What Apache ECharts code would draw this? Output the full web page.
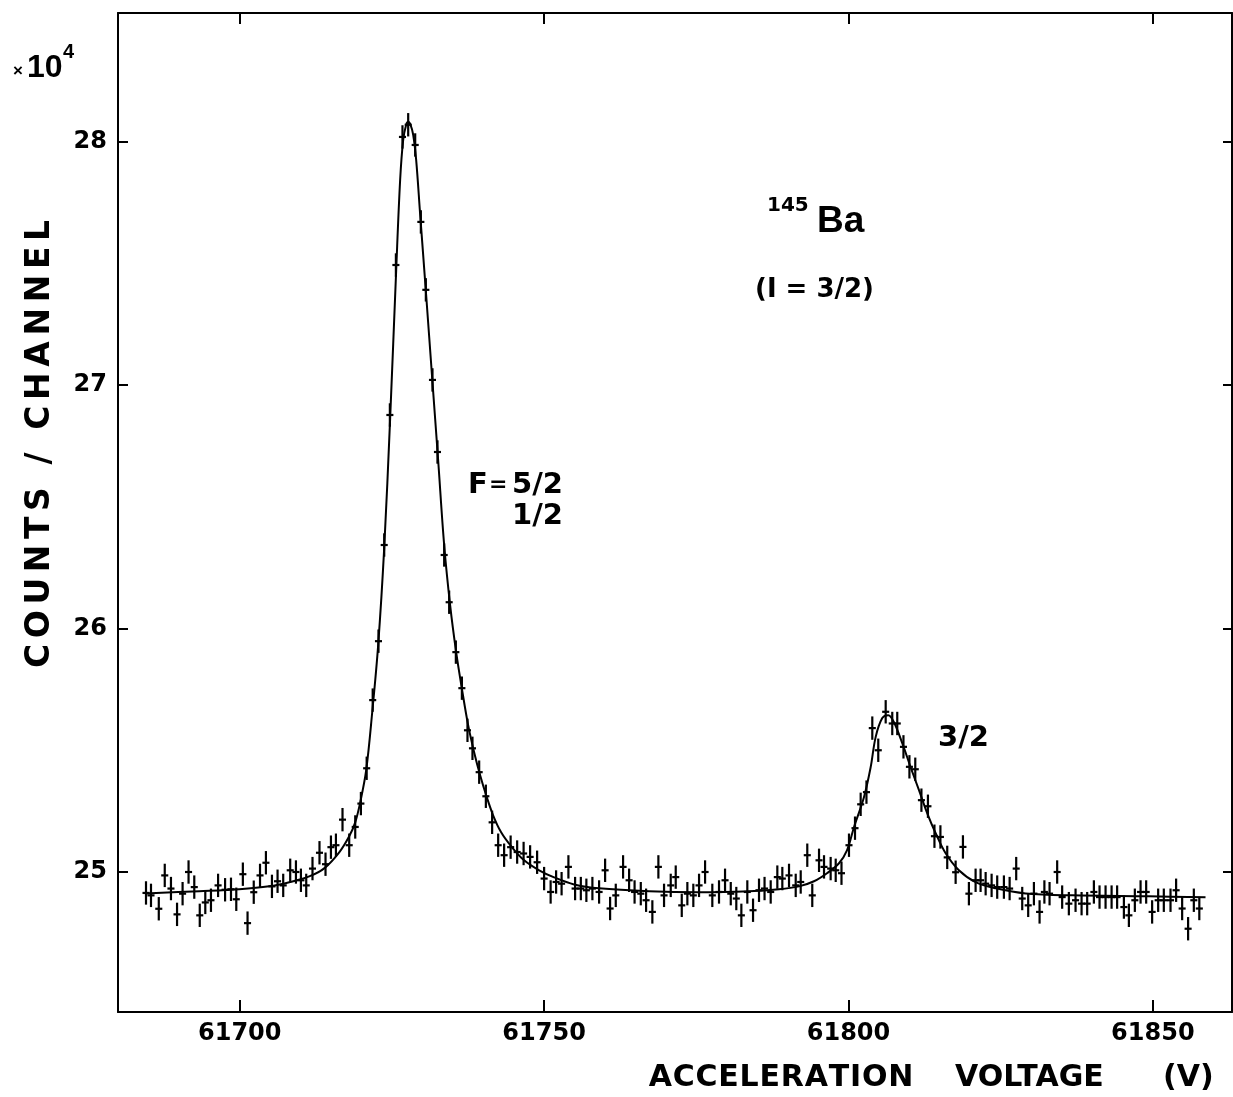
<!DOCTYPE html>
<html>
<head>
<meta charset="utf-8">
<script src="https://cdn.jsdelivr.net/npm/echarts@6/dist/echarts.min.js"></script>
<style>
html,body{margin:0;padding:0;background:#fff;}
#c{width:1233px;height:1097px;}
</style>
</head>
<body>
<div id="c"></div>
<script>
// Measured channels: acceleration voltage (V)
const voltage = [
61684.60,61685.42,61686.70,61687.68,61688.70,61689.70,61690.61,61691.59,61692.53,61693.43,
61694.34,61695.27,61696.44,61697.59,61698.56,61699.43,61700.51,61701.28,61702.30,61703.33,
61704.30,61705.29,61706.21,61707.14,61708.29,61709.23,61710.05,61710.92,61711.95,61713.10,
61714.09,61714.98,61715.80,61716.88,61717.98,61718.97,61719.90,61720.85,61721.84,61722.79,
61723.73,61724.66,61725.65,61726.73,61727.67,61728.82,61729.75,61730.57,61731.66,61732.48,
61733.58,61734.40,61735.50,61736.49,61737.41,61738.23,61739.33,61740.43,61741.46,61742.45,
61743.43,61744.50,61745.57,61746.63,61747.70,61748.85,61750.00,61751.07,61751.97,61752.87,
61753.99,61755.09,61756.03,61756.94,61757.93,61759.03,61760.02,61760.84,61761.77,61762.97,
61763.96,61764.86,61765.88,61766.75,61767.78,61768.77,61769.70,61770.80,61771.62,61772.61,
61773.53,61774.51,61775.45,61776.44,61777.63,61778.73,61779.72,61780.66,61781.57,61782.40,
61783.38,61784.32,61785.30,61786.21,61787.22,61788.31,61789.13,61790.23,61791.33,61792.15,
61793.23,61794.05,61795.16,61795.98,61797.07,61797.90,61798.85,61800.08,61801.07,61802.00,
61802.95,61803.91,61804.89,61806.11,61807.19,61808.01,61809.03,61810.01,61810.97,61811.98,
61813.05,61814.12,61815.10,61816.22,61817.60,61818.80,61819.78,61820.88,61821.70,61822.53,
61823.51,61824.43,61825.53,61826.47,61827.55,61828.54,61829.52,61830.46,61831.39,61832.18,
61833.03,61834.28,61835.10,61836.20,61837.30,61838.29,61839.21,61840.31,61841.24,61842.23,
61843.22,61844.13,61845.24,61846.06,61847.04,61847.98,61848.90,61849.88,61850.87,61851.80,
61852.90,61853.82,61854.81,61855.79,61856.73,61857.63
];
// Counts per channel (x10^4)
const counts = [
24.914,24.904,24.849,24.986,24.932,24.826,24.911,25.000,24.938,24.822,
24.875,24.884,24.945,24.927,24.929,24.888,24.991,24.790,24.917,24.986,
25.038,24.941,24.962,24.945,25.007,25.000,24.966,24.945,25.014,25.079,
25.032,25.102,25.110,25.215,25.110,25.185,25.281,25.426,25.706,25.948,
26.343,26.877,27.493,28.019,28.069,27.986,27.670,27.391,27.021,26.725,
26.302,26.108,25.903,25.755,25.582,25.508,25.410,25.311,25.204,25.110,
25.069,25.102,25.082,25.076,25.062,25.040,24.973,24.918,24.959,24.952,
25.021,24.932,24.932,24.925,24.932,24.918,25.007,24.850,24.904,25.021,
24.966,24.918,24.911,24.884,24.836,25.021,24.904,24.945,24.979,24.863,
24.911,24.904,24.945,25.000,24.904,24.918,24.966,24.911,24.891,24.822,
24.918,24.843,24.925,24.932,24.918,24.979,24.973,24.986,24.945,24.959,
25.069,24.904,25.048,25.021,25.014,25.007,24.995,25.110,25.180,25.278,
25.328,25.591,25.500,25.658,25.610,25.610,25.514,25.432,25.422,25.295,
25.270,25.147,25.144,25.060,24.999,25.103,24.911,24.966,24.966,24.952,
24.945,24.938,24.938,24.932,25.014,24.891,24.863,24.911,24.836,24.918,
24.911,25.000,24.897,24.870,24.884,24.870,24.870,24.918,24.897,24.897,
24.897,24.897,24.856,24.822,24.884,24.918,24.918,24.836,24.884,24.884,
24.884,24.925,24.850,24.767,24.884,24.850
];
// Fitted curve
const fitVoltage = [
61684.48,61693.35,61699.92,61704.84,61708.13,61711.41,61713.87,61716.34,61717.98,61718.97,
61719.79,61720.77,61721.76,61722.74,61723.73,61724.71,61725.70,61726.35,61726.85,61727.34,
61727.67,61728.00,61728.49,61728.98,61729.64,61730.62,61731.61,61732.59,61733.58,61734.56,
61735.55,61736.53,61737.52,61738.50,61739.49,61740.48,61741.62,61742.94,61744.58,61746.72,
61749.18,61751.64,61754.92,61759.03,61767.24,61775.45,61783.66,61788.59,61791.87,61794.33,
61796.47,61798.44,61799.75,61800.90,61802.54,61803.64,61804.46,61805.55,61806.53,61807.47,
61808.83,61810.21,61811.58,61812.94,61814.32,61815.96,61818.14,61820.88,61824.17,61829.10,
61836.75,61849.34,61858.65
];
const fitCounts = [
24.912,24.921,24.929,24.941,24.958,24.982,25.015,25.081,25.147,25.204,
25.286,25.418,25.656,25.932,26.330,26.865,27.473,27.843,28.007,28.069,
28.081,28.073,28.028,27.925,27.699,27.370,27.029,26.692,26.343,26.096,
25.903,25.747,25.603,25.492,25.397,25.315,25.233,25.163,25.106,25.048,
25.007,24.978,24.949,24.933,24.921,24.917,24.921,24.929,24.941,24.962,
24.995,25.036,25.089,25.184,25.307,25.430,25.554,25.632,25.644,25.615,
25.529,25.430,25.336,25.241,25.159,25.077,25.007,24.958,24.933,24.912,
24.904,24.900,24.896
];
const xTicks = [61700, 61750, 61800, 61850];
const yTicks = [25, 26, 27, 28];
const yErr = 0.048;     // half length of the vertical error bar (x10^4)
const xHalf = 0.58;     // half channel width (V)

const chart = echarts.init(document.getElementById('c'), null, {renderer:'canvas'});
const FONT = 'DejaVu Sans';
const axisLineStyle = {color:'#000', width:2};

const points = voltage.map((v,i)=>[v, counts[i]]);
const fit = fitVoltage.map((v,i)=>[v, fitCounts[i]]);

function txt(x, y, text, font, align){
  return {type:'text', x:x, y:y, silent:true,
    style:{text:text, font:font, fill:'#000', align:align||'left', verticalAlign:'middle'}};
}
// text with extra letter spacing, centred on (cx, cy), optionally rotated
const mctx = document.createElement('canvas').getContext('2d');
function spaced(cx, cy, str, font, spacing, rotation){
  mctx.font = font;
  const chars = Array.from(str);
  const widths = chars.map(ch=>mctx.measureText(ch).width);
  const total = widths.reduce((a,b)=>a+b,0) + spacing*(chars.length-1);
  let pos = -total/2;
  const children = chars.map((ch,i)=>{
    const el = {type:'text', x:pos, y:0, silent:true,
      style:{text:ch, font:font, fill:'#000', align:'left', verticalAlign:'middle'}};
    pos += widths[i] + spacing;
    return el;
  });
  return {type:'group', x:cx, y:cy, rotation:rotation||0, silent:true, children:children};
}

chart.setOption({
  animation:false,
  backgroundColor:'#fff',
  grid:{left:118, right:1, top:13, bottom:85, containLabel:false},
  xAxis:[{
    type:'value', position:'bottom', min:61680, max:61863,
    axisLine:{show:true, onZero:false, lineStyle:axisLineStyle},
    axisTick:{show:true, inside:true, length:12, lineStyle:{color:'#000', width:2}, customValues:xTicks},
    axisLabel:{show:true, customValues:xTicks, margin:10, color:'#000', fontFamily:FONT, fontSize:24,
      fontWeight:'bold', formatter:v=>String(v)},
    splitLine:{show:false}
  },{
    type:'value', position:'top', min:61680, max:61863,
    axisLine:{show:true, onZero:false, lineStyle:axisLineStyle},
    axisTick:{show:true, inside:true, length:11, lineStyle:{color:'#000', width:2}, customValues:xTicks},
    axisLabel:{show:false},
    splitLine:{show:false}
  }],
  yAxis:[{
    type:'value', position:'left', min:24.425, max:28.528,
    axisLine:{show:true, onZero:false, lineStyle:axisLineStyle},
    axisTick:{show:true, inside:true, length:10, lineStyle:{color:'#000', width:2}, customValues:yTicks},
    axisLabel:{show:true, customValues:yTicks, margin:11, color:'#000', fontFamily:FONT, fontSize:24,
      fontWeight:'bold', formatter:v=>String(v)},
    splitLine:{show:false}
  },{
    type:'value', position:'right', min:24.425, max:28.528,
    axisLine:{show:true, onZero:false, lineStyle:axisLineStyle},
    axisTick:{show:true, inside:true, length:9, lineStyle:{color:'#000', width:2}, customValues:yTicks},
    axisLabel:{show:false},
    splitLine:{show:false}
  }],
  series:[{
    type:'line', data:fit, xAxisIndex:0, yAxisIndex:0,
    showSymbol:false, smooth:0.35, lineStyle:{color:'#000', width:2}, z:2
  },{
    type:'custom', data:points, xAxisIndex:0, yAxisIndex:0, z:3,
    renderItem:function(params, api){
      const x = api.value(0), y = api.value(1);
      const c = api.coord([x, y]);
      const l = api.coord([x - xHalf, y]);
      const r = api.coord([x + xHalf, y]);
      const t = api.coord([x, y + yErr]);
      const b = api.coord([x, y - yErr]);
      const st = {stroke:'#000', lineWidth:2.2};
      return {type:'group', children:[
        {type:'line', shape:{x1:l[0], y1:c[1], x2:r[0], y2:c[1]}, style:st},
        {type:'line', shape:{x1:c[0], y1:t[1], x2:c[0], y2:b[1]}, style:st}
      ]};
    }
  }],
  graphic:[
    txt(13, 71, '×', 'bold 17px "Liberation Sans"'),
    txt(27, 68, '10', 'bold 32px "Liberation Sans"'),
    txt(63, 52, '4', 'bold 20px "Liberation Sans"'),
    txt(767, 206, '145', 'bold 20px "DejaVu Sans"'),
    txt(817, 222, 'Ba', 'bold 37px "Liberation Sans"'),
    txt(755, 290, '(I = 3/2)', 'bold 26px "DejaVu Sans"'),
    txt(468, 485, 'F', 'bold 29px "DejaVu Sans"'),
    txt(489, 485, '=', 'bold 22px "DejaVu Sans"'),
    txt(563, 485, '5/2', 'bold 29px "DejaVu Sans"', 'right'),
    txt(563, 516, '1/2', 'bold 29px "DejaVu Sans"', 'right'),
    txt(938, 738, '3/2', 'bold 29px "DejaVu Sans"'),
    spaced(781, 1078, 'ACCELERATION', 'bold 30px "DejaVu Sans"', 0.8, 0),
    txt(955, 1078, 'VOLTAGE', 'bold 30px "DejaVu Sans"'),
    txt(1163, 1078, '(V)', 'bold 30px "DejaVu Sans"'),
    spaced(40, 444, 'COUNTS / CHANNEL', 'bold 33px "DejaVu Sans"', 5.6, Math.PI/2)
  ]
});
</script>
</body>
</html>
